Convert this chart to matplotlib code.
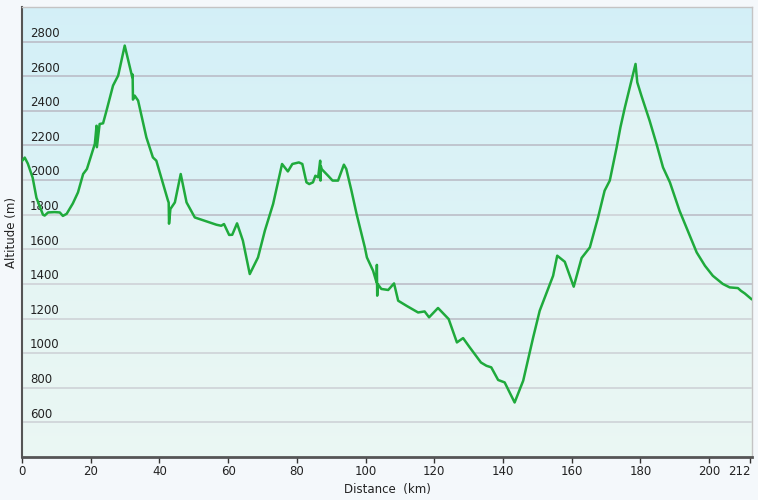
import numpy as np
import matplotlib.pyplot as plt
import matplotlib.transforms as mtransforms

# distance (km) and altitude (m)
dist = [0, 0.8, 1.7, 3.1, 4.2, 6.1, 6.6, 7.6, 9.5, 11.0, 11.9, 13.0, 14.8, 16.3,
        17.8, 18.9, 21.2, 21.7, 21.8, 22.6, 23.6, 24.6, 26.5, 28.0, 29.9, 31.4,
        32.1, 32.2, 32.3, 32.8, 33.8, 36.2, 38.1, 39.1, 42.5, 42.7, 42.8, 43.2,
        44.5, 46.2, 47.9, 50.3, 53.7, 56.6, 58.0, 58.8, 60.3, 61.2, 62.6, 64.3,
        66.3, 68.7, 70.7, 73.1, 75.7, 77.4, 78.7, 80.6, 81.6, 82.8, 83.6, 84.7,
        85.4, 86.2, 86.8, 86.9, 87.0, 87.2, 89.1, 90.4, 92.0, 93.7, 94.4, 95.9,
        97.4, 99.8, 100.4, 102.2, 103.2, 103.3, 103.4, 103.5, 104.6, 106.6,
        108.3, 109.5, 111.9, 115.3, 117.2, 118.5, 121.1, 124.2, 126.6, 128.4,
        130.2, 133.6, 135.2, 136.6, 138.6, 140.5, 143.4, 145.9, 148.8, 150.7,
        154.6, 155.8, 158.0, 160.6, 162.9, 165.3, 167.7, 169.6, 171.1, 173.1,
        174.2, 175.5, 177.4, 178.6, 179.1, 180.3, 182.7, 184.7, 186.6, 188.6,
        191.4, 196.4, 198.8, 201.1, 204.0, 206.0, 208.4, 209.3, 210.4, 212.3]
alt = [2110, 2130, 2095, 2014, 1898, 1800, 1795, 1813, 1815, 1813, 1793, 1805,
       1865, 1929, 2035, 2064, 2209, 2314, 2190, 2324, 2328, 2401, 2546, 2604,
       2777, 2651, 2594, 2610, 2465, 2488, 2459, 2247, 2131, 2112, 1881, 1870,
       1748, 1833, 1871, 2035, 1871, 1784, 1761, 1742, 1736, 1746, 1683, 1684,
       1750, 1650, 1457, 1553, 1708, 1862, 2093, 2050, 2093, 2102, 2093, 1987,
       1977, 1987, 2025, 2016, 2112, 1997, 2080, 2064, 2025, 1997, 1997, 2089,
       2064, 1939, 1804, 1611, 1553, 1476, 1409, 1510, 1332, 1400, 1371, 1365,
       1403, 1303, 1274, 1235, 1241, 1207, 1261, 1197, 1062, 1087, 1037, 946,
       927, 918, 845, 831, 715, 841, 1091, 1245, 1447, 1563, 1528, 1384, 1550,
       1611, 1785, 1939, 1997, 2189, 2305, 2420, 2575, 2671, 2565, 2488, 2343,
       2209, 2073, 1987, 1823, 1582, 1505, 1447, 1400, 1380, 1376, 1360, 1345,
       1313]

y_ticks = [600, 800, 1000, 1200, 1400, 1600, 1800, 2000, 2200, 2400, 2600, 2800]
x_ticks = [0, 20, 40, 60, 80, 100, 120, 140, 160, 180, 200, 212]

fig = plt.figure(figsize=(7.58, 5), dpi=100, facecolor='#f4f8fb')
ax = fig.add_axes([22 / 758, 43 / 500, 730 / 758, 450 / 500])

xmin, xmax, ymin, ymax = 0, 212.5, 400, 3000
ax.set_xlim(xmin, xmax)
ax.set_ylim(ymin, ymax)

# vertical gradient background
grad = np.linspace(0, 1, 256).reshape(-1, 1)
top = np.array([0.83, 0.94, 0.97])
bot = np.array([0.91, 0.97, 0.96])
img = top * (1 - grad[..., None]) + bot * grad[..., None]
ax.imshow(img, extent=[xmin, xmax, ymin, ymax], aspect='auto', zorder=0)

for y in y_ticks:
    ax.axhline(y, color='#b9b9c4', lw=1.1, zorder=1)

ax.fill_between(dist, alt, ymin, color='#f0f8f2', alpha=0.35, zorder=2)
ax.plot(dist, alt, color='#1faa3c', lw=1.8, zorder=4)

trans = mtransforms.blended_transform_factory(ax.transAxes, ax.transData)
for y in y_ticks:
    ax.text(0.011, y + 10, str(y), transform=trans, fontsize=8.5,
            color='#222222', ha='left', va='bottom', zorder=3)

ax.set_yticks([])
ax.set_xticks(x_ticks)
ax.set_xticklabels([str(x) for x in x_ticks], fontsize=8.5, color='#222222')
ax.get_xticklabels()[-1].set_ha('right')
ax.tick_params(axis='x', direction='out', length=4, width=1, color='#333333', pad=2)

for side in ['top', 'right']:
    ax.spines[side].set_color('#c4c4c4')
    ax.spines[side].set_linewidth(1)
ax.spines['left'].set_color('#555555')
ax.spines['left'].set_linewidth(1.5)
ax.spines['bottom'].set_color('#555555')
ax.spines['bottom'].set_linewidth(2)

ax.set_xlabel('Distance  (km)', fontsize=8.5, color='#222222', labelpad=3)
fig.text(12 / 758, 0.535, 'Altitude (m)', rotation=90, fontsize=8.5,
         color='#222222', ha='center', va='center')

fig.savefig('out.png', dpi=100, facecolor=fig.get_facecolor())
